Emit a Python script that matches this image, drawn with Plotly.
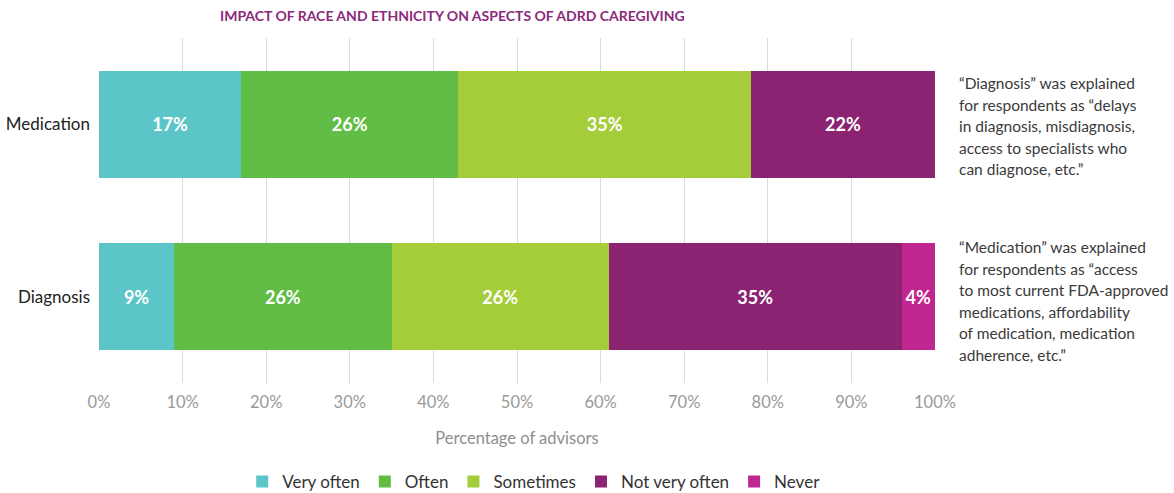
import plotly.graph_objects as go

# Survey categories (bottom to top on the chart)
categories = ["Diagnosis", "Medication"]

# Response levels and their shares (% of advisors), ordered [Diagnosis, Medication]
levels = ["Very often", "Often", "Sometimes", "Not very often", "Never"]
very_often = [9, 17]
often = [26, 26]
sometimes = [26, 35]
not_very_often = [35, 22]
never = [4, 0]

tick_values = [0, 10, 20, 30, 40, 50, 60, 70, 80, 90, 100]
tick_labels = [f"{v}%" for v in tick_values]

colors = ["#5BC5C7", "#62BD47", "#A5CD3A", "#8B2372", "#C0268F"]
series = [very_often, often, sometimes, not_very_often, never]

FONT = "Lato"

fig = go.Figure()
for name, vals, col in zip(levels, series, colors):
    fig.add_trace(go.Bar(
        y=categories,
        x=vals,
        name=name,
        orientation="h",
        marker=dict(color=col, line=dict(width=0)),
        text=[f"{v}%" if v > 0 else "" for v in vals],
        textposition="inside",
        insidetextanchor="middle",
        textangle=0,
        textfont=dict(family=FONT, size=18, color="white", weight="bold"),
        width=0.62,
        hoverinfo="skip",
    ))

fig.update_layout(
    barmode="stack",
    width=1174,
    height=493,
    margin=dict(l=99, r=239, t=38, b=110),
    paper_bgcolor="white",
    plot_bgcolor="white",
    font=dict(family=FONT),
    uniformtext=dict(mode="show", minsize=10),
    showlegend=True,
    legend=dict(
        orientation="h",
        x=0.52, xanchor="center", xref="paper",
        y=1 - 482 / 493, yanchor="middle", yref="container",
        font=dict(family=FONT, size=17, color="#333333"),
        itemwidth=30,
        traceorder="normal",
    ),
    xaxis=dict(
        range=[0, 100],
        tickvals=tick_values,
        ticktext=tick_labels,
        showgrid=True,
        gridcolor="#D3DCE5",
        gridwidth=1,
        zeroline=False,
        showline=False,
        ticks="",
        automargin=False,
        ticklabelstandoff=7,
        tickfont=dict(family=FONT, size=16.5, color="#9A9A9A"),
        title=dict(text="Percentage of advisors",
                   font=dict(family=FONT, size=16.5, color="#8E8E8E"),
                   standoff=21),
        fixedrange=True,
    ),
    yaxis=dict(
        categoryorder="array",
        categoryarray=categories,
        range=[-0.5, 1.5],
        showgrid=False,
        zeroline=False,
        ticks="",
        automargin=False,
        ticklabelstandoff=8,
        tickfont=dict(family=FONT, size=17, color="#222222"),
        fixedrange=True,
    ),
)

# Chart heading
fig.add_annotation(
    text="<b>IMPACT OF RACE AND ETHNICITY ON ASPECTS OF ADRD CAREGIVING</b>",
    xref="paper", yref="paper",
    x=(452 - 99) / 836, y=1.0, yshift=23,
    xanchor="center", yanchor="middle",
    showarrow=False,
    font=dict(family=FONT, size=14, color="#8B2A7A"),
)

# Side notes explaining the two categories
notes = [
    (["“Diagnosis” was explained",
      "for respondents as “delays",
      "in diagnosis, misdiagnosis,",
      "access to specialists who",
      "can diagnose, etc.”"], 83),
    (["“Medication” was explained",
      "for respondents as “access",
      "to most current FDA-approved",
      "medications, affordability",
      "of medication, medication",
      "adherence, etc.”"], 247),
]
line_gap = 21.5
for lines, top_px in notes:
    for i, line in enumerate(lines):
        py = top_px + i * line_gap
        fig.add_annotation(
            text=line,
            xref="paper", yref="paper",
            x=(957 - 99) / 836, y=(383 - py) / 345,
            xanchor="left", yanchor="middle",
            showarrow=False,
            font=dict(family=FONT, size=15.5, color="#3A3A3A"),
        )

fig.write_html("out.html")
